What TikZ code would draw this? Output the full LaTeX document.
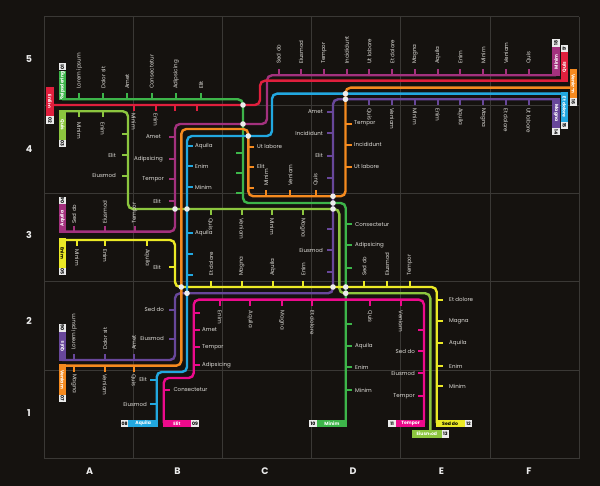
\documentclass[tikz,border=0pt]{standalone}
\usepackage{fontspec}
\setmainfont{Poppins}
\definecolor{bgc}{HTML}{15120F}
\definecolor{gridc}{HTML}{3A3835}
\definecolor{txt}{HTML}{E0DEDA}
\definecolor{cgreen}{HTML}{3DB54A}
\definecolor{cred}{HTML}{E01F3D}
\definecolor{clime}{HTML}{8CC63F}
\definecolor{cmag}{HTML}{A3317E}
\definecolor{cyel}{HTML}{EBE926}
\definecolor{cora}{HTML}{F58A1F}
\definecolor{cblu}{HTML}{22A8E0}
\definecolor{cpur}{HTML}{68479A}
\definecolor{cpin}{HTML}{EC0A8C}
\newcount\nodecnt
\tikzset{
  autoname/.code={\global\advance\nodecnt by 1 \tikzset{name=n\the\nodecnt}},
  metro/.style={line width=2.4pt,rounded corners=5pt},
  tick/.style={line width=1.9pt},
  lbl/.style={autoname,inner sep=0pt,text=txt,font=\fontsize{5.5}{6}\selectfont},
  lup/.style={lbl,rotate=90,anchor=west},
  ldn/.style={lbl,rotate=-90,anchor=west},
  lright/.style={lbl,anchor=west},
  lleft/.style={lbl,anchor=east},
  tabtxt/.style={autoname,inner sep=0pt,font=\bfseries\fontsize{4.6}{5}\selectfont},
  numbox/.style={autoname,fill=black!8,text=black,inner sep=0pt,font=\bfseries\fontsize{4.6}{5}\selectfont},
  axis/.style={autoname,inner sep=0pt,text=white!92!black,font=\bfseries\fontsize{9.5}{10}\selectfont},
  hub/.style={fill=white!92!black,draw=none}
}
% vertical tab: colour, x-left, ytop, ybottom, text, rotation, text colour
\newcommand{\vtab}[7]{\fill[#1] (#2,#3) rectangle ({#2+7.4},#4);
  \node[tabtxt,text=#7,rotate=#6] at ({#2+3.7},{(#3+#4)/2}) {#5};}
% vertical number box: x-left, ytop, number, rotation
\newcommand{\vnum}[4]{\node[numbox,rotate=#4,minimum width=7.4pt,minimum height=7.4pt] at ({#1+3.7},{#2+3.7}) {#3};}
% horizontal tab: colour, x1, x2, y-top, text, text colour
\newcommand{\htab}[6]{\fill[#1] (#2,#4) rectangle (#3,{#4+7.3});
  \node[tabtxt,text=#6] at ({(#2+#3)/2},{#4+3.65}) {#5};}
\newcommand{\hnum}[3]{\node[numbox,minimum width=7.6pt,minimum height=7.3pt] at ({#1+3.8},{#2+3.65}) {#3};}
\begin{document}
\begin{tikzpicture}[x=1pt,y=-1pt]
\useasboundingbox (0,0) rectangle (600,486);
\fill[bgc] (0,0) rectangle (600,486);
% grid
\foreach \gx in {44,133.5,222.5,311.5,400.5,490,579}
  \draw[gridc,line width=0.7pt] (\gx,16.7) -- (\gx,458.5);
\foreach \gy in {16.7,105,193,281.7,370,458.5}
  \draw[gridc,line width=0.7pt] (44,\gy) -- (579,\gy);
% axis labels
\foreach \t/\yy in {5/59,4/149,3/235,2/321,1/413}
  \node[axis] at (29,\yy) {\t};
\foreach \t/\xx in {A/89.5,B/177.5,C/265,D/353,E/441.5,F/529}
  \node[axis] at (\xx,471) {\t};
% tabs
\vtab{cgreen}{58.7}{71}{100.5}{Reipsdering}{90}{white}
\vtab{cred}{46.3}{86.7}{116.3}{Enlim}{-90}{white}
\vtab{clime}{58.7}{110}{140}{Quis}{-90}{white}
\vtab{cmag}{58.7}{204}{233}{Aquila}{90}{white}
\vtab{cyel}{58.7}{238.3}{268}{Enim}{-90}{black}
\vtab{cpur}{58.7}{331.7}{361.2}{Quis}{90}{white}
\vtab{cora}{58.7}{364.5}{394.7}{Veniam}{-90}{white}
\vtab{cmag}{552.3}{46.7}{76.5}{Minim}{90}{white}
\vtab{cred}{560.7}{52.3}{82}{Quis}{90}{white}
\vtab{cora}{569.7}{69}{98.3}{Veniam}{-90}{white}
\vtab{cblu}{560.7}{92.5}{121.7}{Et dolore}{-90}{white}
\vtab{cpur}{552.3}{98.1}{128}{Magna}{-90}{white}
\htab{cblu}{128.3}{158}{419.7}{Aquila}{white}
\htab{cpin}{162.5}{191.3}{419.7}{Elit}{white}
\htab{cgreen}{317}{346.9}{419.7}{Minim}{white}
\htab{cpin}{396}{425.2}{419.7}{Tempor}{white}
\htab{cyel}{435.5}{464.7}{419.7}{Sed do}{black}
\htab{clime}{412}{441.7}{430.3}{Eiusmod}{white}
% lines
\draw[metro,cmag] (62,231.7) -- (175,231.7) -- (175,124) -- (267,124) -- (267,75.3) -- (556,75.3);
\draw[metro,cred] (50,105) -- (260,105) -- (260,80.7) -- (564,80.7);
\draw[metro,cgreen] (62,99.3) -- (243,99.3) -- (243,203) -- (345.7,203) -- (345.7,426);
\draw[metro,clime] (62,111.3) -- (128,111.3) -- (128,209) -- (339.3,209) -- (339.3,293.3) -- (430.3,293.3) -- (430.3,433);
\draw[metro,cyel] (62,240) -- (175,240) -- (175,287) -- (436.7,287) -- (436.7,423);
\draw[metro,cpur] (62,360) -- (175,360) -- (175,293.3) -- (333,293.3) -- (333,99.3) -- (556,99.3);
\draw[metro,cora] (62,365.7) -- (181.3,365.7) -- (181.3,129) -- (248.3,129) -- (248.3,196.3) -- (345.5,196.3) -- (345.5,87.7) -- (573,87.7);
\draw[metro,cpin] (163.7,423) -- (163.7,378) -- (193.7,378) -- (193.7,299.7) -- (424,299.7) -- (424,423);
\draw[metro,cblu] (156.7,423) -- (156.7,372) -- (187,372) -- (187,136) -- (272,136) -- (272,93.7) -- (564,93.7);
% number boxes
\vnum{58.7}{63}{01}{90}
\vnum{46.3}{116.3}{02}{-90}
\vnum{58.7}{140}{03}{-90}
\vnum{58.7}{196.7}{04}{90}
\vnum{58.7}{268}{05}{-90}
\vnum{58.7}{324.3}{06}{90}
\vnum{58.7}{394.7}{07}{-90}
\vnum{552.3}{39.3}{18}{90}
\vnum{560.7}{45}{17}{90}
\vnum{569.7}{98.3}{16}{-90}
\vnum{560.7}{121.7}{15}{-90}
\vnum{552.3}{128}{14}{-90}
\hnum{120.7}{419.7}{08}
\hnum{191.3}{419.7}{09}
\hnum{309.3}{419.7}{10}
\hnum{388.4}{419.7}{11}
\hnum{464.7}{419.7}{12}
\hnum{441.7}{430.3}{13}
% dark green
\foreach \xx/\t in {79.3/Lorem ipsum,103.3/Dolor sit,127.3/Amet,151.7/Consectetur,176/Adipsicing,201/Elit}{
  \draw[tick,cgreen] (\xx,99.3) -- ++(0,-6);
  \node[lup] at (\xx,89) {\t};}
\foreach \yy in {152.7,172.7,193} \draw[tick,cgreen] (243,\yy) -- ++(-7,0);
\foreach \yy/\t in {224.3/Consectetur,245.3/Adipsicing,345.7/Aquila,367.3/Enim,390.3/Minim}{
  \draw[tick,cgreen] (345.7,\yy) -- ++(6,0);
  \node[lright] at (355,\yy) {\t};}
\foreach \yy in {267.7,324} \draw[tick,cgreen] (345.7,\yy) -- ++(6,0);
% red
\foreach \xx/\t in {133.7/Minim,155.7/Enim}{
  \draw[tick,cred] (\xx,105) -- ++(0,6);
  \node[ldn] at (\xx,113) {\t};}
\foreach \xx in {175,197} \draw[tick,cred] (\xx,105) -- ++(0,6);
% lime
\foreach \xx/\t in {79.3/Minim,102.7/Enim}{
  \draw[tick,clime] (\xx,111.3) -- ++(0,6);
  \node[ldn] at (\xx,122) {\t};}
\draw[tick,clime] (128,134) -- ++(-6,0);
\foreach \yy/\t in {155/Elit,175.7/Eiusmod}{
  \draw[tick,clime] (128,\yy) -- ++(-6,0);
  \node[lleft] at (116,\yy) {\t};}
\foreach \xx/\t in {210.7/Quis,241.7/Veniam,272.3/Minim,302.7/Magna}{
  \draw[tick,clime] (\xx,209) -- ++(0,6);
  \node[ldn] at (\xx,218) {\t};}
% magenta
\foreach \xx/\t in {74/Sed do,104.7/Eiusmod,134.7/Tempor}{
  \draw[tick,cmag] (\xx,231.7) -- ++(0,-6);
  \node[lup] at (\xx,224) {\t};}
\foreach \yy/\t/\ee in {137/Amet/161,158.7/Adipsicing/163,179.3/Tempor/164,201/Elit/161}{
  \draw[tick,cmag] (175,\yy) -- ++(-6,0);
  \node[lleft] at (\ee,\yy) {\t};}
\foreach \xx/\t in {278.7/Sed do,301/Eiusmod,324/Tempor,346.7/Incididunt,369.3/Ut labore,392.3/Et dolore,415/Magna,437.7/Aquila,460.3/Enim,483.3/Minim,506/Veniam,528.7/Quis}{
  \draw[tick,cmag] (\xx,75.3) -- ++(0,-6);
  \node[lup] at (\xx,64) {\t};}
% yellow
\foreach \xx/\t in {77.3/Minim,105.3/Enim,147.3/Aquila}{
  \draw[tick,cyel] (\xx,240) -- ++(0,6);
  \node[ldn] at (\xx,249) {\t};}
\draw[tick,cyel] (175,267.3) -- ++(-6,0);
\node[lleft] at (161,267.3) {Elit};
\foreach \xx/\t in {211/Et dolore,241.7/Magna,272.7/Aquila,303.3/Enim,364.3/Sed do,387/Eiusmod,409.7/Tempor}{
  \draw[tick,cyel] (\xx,287) -- ++(0,-6);
  \node[lup] at (\xx,276) {\t};}
\foreach \yy/\t in {299.7/Et dolore,321/Magna,343/Aquila,366.3/Enim,386/Minim}{
  \draw[tick,cyel] (436.7,\yy) -- ++(6,0);
  \node[lright] at (449,\yy) {\t};}
% purple
\foreach \xx/\t in {74/Lorem ipsum,105/Dolor sit,134/Amet}{
  \draw[tick,cpur] (\xx,360) -- ++(0,-6);
  \node[lup] at (\xx,350) {\t};}
\foreach \yy/\t in {309.7/Sed do,338.7/Eiusmod}{
  \draw[tick,cpur] (175,\yy) -- ++(-6,0);
  \node[lleft] at (164,\yy) {\t};}
\foreach \yy/\t in {112/Amet,133.3/Incididunt,155.7/Elit,250/Eiusmod}{
  \draw[tick,cpur] (333,\yy) -- ++(-6,0);
  \node[lleft] at (323,\yy) {\t};}
\foreach \yy in {178.3,229.3,272.3} \draw[tick,cpur] (333,\yy) -- ++(-6,0);
\foreach \xx/\t in {369.3/Quis,392.3/Veniam,415/Minim,437.7/Enim,460.3/Aquila,483.3/Magna,506/Et dolore,528.7/Ut labore}{
  \draw[tick,cpur] (\xx,99.3) -- ++(0,6);
  \node[ldn] at (\xx,108) {\t};}
% orange
\foreach \xx/\t in {74/Magna,105/Veniam,133.7/Quis}{
  \draw[tick,cora] (\xx,365.7) -- ++(0,6);
  \node[ldn] at (\xx,374) {\t};}
\foreach \yy/\t in {146.7/Ut labore,166.7/Elit}{
  \draw[tick,cora] (248.3,\yy) -- ++(6,0);
  \node[lright] at (257,\yy) {\t};}
\draw[tick,cora] (248.3,187.7) -- ++(6,0);
\foreach \xx/\t in {266/Minim,290.3/Veniam,315.7/Quis}{
  \draw[tick,cora] (\xx,196.3) -- ++(0,-6);
  \node[lup] at (\xx,186) {\t};}
\foreach \yy/\t in {123.7/Tempor,144.7/Incididunt,166.7/Ut labore}{
  \draw[tick,cora] (345.5,\yy) -- ++(6,0);
  \node[lright] at (354,\yy) {\t};}
% blue
\foreach \yy/\t in {146.3/Aquila,166.3/Enim,187.3/Minim,232.7/Aquila}{
  \draw[tick,cblu] (187,\yy) -- ++(6,0);
  \node[lright] at (195,\yy) {\t};}
\foreach \yy in {253.7,274.7} \draw[tick,cblu] (187,\yy) -- ++(6,0);
\foreach \yy/\t in {379.7/Elit,404/Eiusmod}{
  \draw[tick,cblu] (156.7,\yy) -- ++(-6.5,0);
  \node[lleft] at (147,\yy) {\t};}
% pink
\draw[tick,cpin] (193.7,312.7) -- ++(6,0);
\foreach \yy/\t in {330/Amet,347.3/Tempor,364.7/Adipsicing}{
  \draw[tick,cpin] (193.7,\yy) -- ++(6,0);
  \node[lright] at (202,\yy) {\t};}
\foreach \xx/\t in {220/Enim,250.3/Aquila,281.7/Magna,312.3/Et dolore,370/Quis,401/Veniam}{
  \draw[tick,cpin] (\xx,299.7) -- ++(0,6);
  \node[ldn] at (\xx,310.5) {\t};}
\draw[tick,cpin] (424,329.7) -- ++(-6,0);
\foreach \yy/\t in {351/Sed do,373.3/Eiusmod,396.3/Tempor}{
  \draw[tick,cpin] (424,\yy) -- ++(-6,0);
  \node[lleft] at (415,\yy) {\t};}
\draw[tick,cpin] (163.7,390) -- ++(6,0);
\node[lright] at (173.3,390) {Consectetur};
% interchanges
\foreach \xx/\yy in {243/105,243/124,248.3/136,175/209,187/209,181.3/287,187/293.3,333/196.3,333/203,333/209,345.5/93.7,345.5/99.3,333/287,345.7/287,345.7/293.3}
  \fill[hub] (\xx,\yy) circle (2.8pt);
\end{tikzpicture}
\end{document}
